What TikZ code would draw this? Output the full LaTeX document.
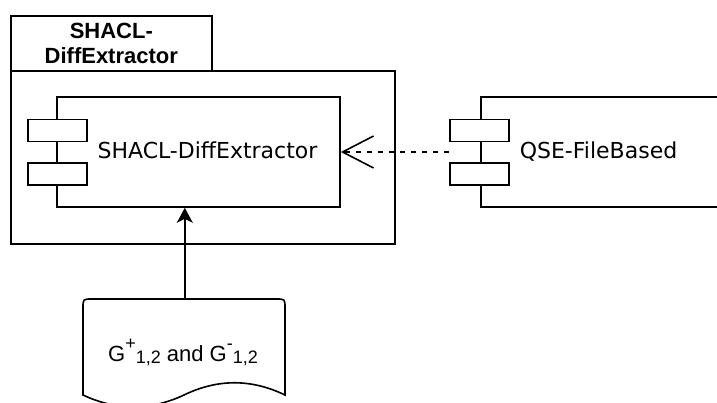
\documentclass[tikz,border=0pt]{standalone}
\usepackage{fontspec}
\setmainfont{DejaVu Sans}
\newfontfamily\arialfont{Liberation Sans}
\usetikzlibrary{arrows.meta}

% raised / lowered small text for the graph label
\newcommand\upidx[1]{\raisebox{12pt}{\fontsize{18}{18}\selectfont #1}}
\newcommand\downidx[1]{\raisebox{-2pt}{\fontsize{18}{18}\selectfont #1}}

\tikzset{
  box/.style={draw, fill=white, inner sep=0pt},
  compbox/.style={box, minimum width=283pt, minimum height=110pt},
  portbox/.style={box, minimum width=59pt, minimum height=22pt},
  comptext/.style={font=\fontsize{22}{26}\selectfont, inner sep=0pt, anchor=base},
  titletext/.style={font=\arialfont\bfseries\fontsize{22}{25}\selectfont, align=center, inner sep=0pt},
  dependency/.style={dash pattern=on 5.5pt off 5.5pt, -{Straight Barb[length=31pt,width=32pt]}},
  flow/.style={-{Stealth[length=15pt,width=16pt,inset=4pt]}}
}

\begin{document}
\begin{tikzpicture}[x=1pt, y=-1pt, line width=1.6pt]
\useasboundingbox (0,0) rectangle (717,403);
\clip (0,0) rectangle (717,403);

% package frame with its name tab
\node[box, anchor=north west, minimum width=201pt, minimum height=55pt] (pkgtab) at (10,15) {};
\node[box, anchor=north west, minimum width=384pt, minimum height=173pt] (pkgbody) at (10,70) {};
\node[titletext] (pkgtitle) at (pkgtab) {SHACL-\\DiffExtractor};

% SHACL-DiffExtractor component
\node[compbox] (diff) at (198.5,152) {};
\node[portbox] (diffp1) at (57.5,130.5) {};
\node[portbox] (diffp2) at (57.5,174) {};
\node[comptext] (difflabel) at (207.5,159) {SHACL-DiffExtractor};

% QSE-FileBased component (runs past the right edge)
\node[compbox, anchor=west, minimum width=260pt] (qse) at (480,152) {};
\node[portbox] (qsep1) at (479.5,130.5) {};
\node[portbox] (qsep2) at (479.5,174) {};
\node[comptext] (qselabel) at (598.5,159) {QSE-FileBased};

% dependency between the components
\coordinate (qsestart) at (qsep1.west |- qse.west);
\draw[dependency] (qsestart) -- (diff.east);

% input document with wavy bottom
\node[minimum width=202pt, minimum height=109pt, anchor=north west, inner sep=0pt] (doc) at (83,299) {};
\draw[fill=white] (83,395) -- (83,308) .. controls (83,299) .. (92,299)
  -- (276,299) .. controls (285,299) .. (285,308) -- (285,395)
  .. controls (251.3,378.7) and (217.7,378.7) .. (184,395)
  .. controls (150.3,410.8) and (116.7,410.8) .. (83,395) -- cycle;
\node[font=\arialfont\fontsize{22}{26}\selectfont, inner sep=0pt, anchor=base] (doclabel) at (183,361)
  {G\upidx{+}\downidx{1,2} and G\upidx{-}\downidx{1,2}};

% input flows into the extractor
\draw[flow] (doc.north) -- (doc.north |- diff.south);
\end{tikzpicture}
\end{document}
